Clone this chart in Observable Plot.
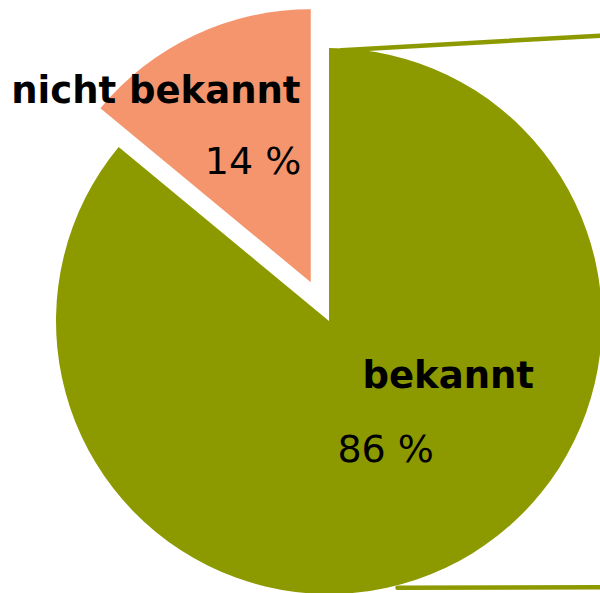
<!DOCTYPE html>
<html><head><meta charset="utf-8">
<script src="https://cdn.jsdelivr.net/npm/d3@7"></script>
<script src="https://cdn.jsdelivr.net/npm/@observablehq/plot@0.6"></script>
<style>html,body{margin:0;padding:0;background:#fff;overflow:hidden}</style>
</head><body><div id="chart"></div>
<script>
// ---- data ----
const categories = ["bekannt", "nicht bekannt"];
const values = [86, 14];
const valueLabels = ["86 %", "14 %"];
const colors = ["#8c9a00", "#f4956e"];
const exploded = [false, true];

// ---- layout (data units: pie centre at 0,0, radius 1) ----
const W = 600, H = 593;
const xDomain = [-329 / 273, 271 / 273];
const yDomain = [-272 / 273, 321 / 273];
const explodeDist = 0.157;

const arcs = d3.pie().sort(null).value(d => d)(values);
const slices = arcs.map((a, i) => {
  const mid = (a.startAngle + a.endAngle) / 2;
  const off = exploded[i] ? explodeDist : 0;
  return {cat: categories[i], start: a.startAngle, end: a.endAngle,
          cx: off * Math.sin(mid), cy: off * Math.cos(mid), color: colors[i]};
});

// connector lines (pie-of-pie style)
const connectors = [
  {id: "top", x: 0.044, y: 0.994}, {id: "top", x: 1.0, y: 1.0476},
  {id: "bottom", x: 0.249, y: -0.975}, {id: "bottom", x: 1.0, y: -0.973}
];

// label positions
const catLabels = [
  {text: categories[0], x: 0.121, y: -0.245, anchor: "start"},
  {text: categories[1], x: -0.106, y: 0.802, anchor: "end"}
];
const valLabels = [
  {text: valueLabels[0], x: 0.029, y: -0.516, anchor: "start"},
  {text: valueLabels[1], x: -0.103, y: 0.542, anchor: "end"}
];

function pieMark(index, scales) {
  const g = d3.create("svg:g");
  const r = scales.x(1) - scales.x(0);
  const arc = d3.arc().innerRadius(0).outerRadius(r);
  for (const s of slices) {
    g.append("path")
      .attr("transform", `translate(${scales.x(s.cx)},${scales.y(s.cy)})`)
      .attr("d", arc({startAngle: s.start, endAngle: s.end}))
      .attr("fill", s.color);
  }
  return g.node();
}

const chart = Plot.plot({
  width: W, height: H,
  margin: 0,
  style: {fontFamily: "'DejaVu Sans', Verdana, sans-serif", background: "#fff"},
  x: {domain: xDomain, axis: null},
  y: {domain: yDomain, axis: null},
  marks: [
    pieMark,
    Plot.line(connectors, {x: "x", y: "y", z: "id", stroke: colors[0], strokeWidth: 4.5}),
    Plot.text(catLabels.filter(d => d.anchor === "start"), {x: "x", y: "y", text: "text", textAnchor: "start", lineAnchor: "bottom", fontSize: 37, fontWeight: "bold", fill: "#000"}),
    Plot.text(catLabels.filter(d => d.anchor === "end"), {x: "x", y: "y", text: "text", textAnchor: "end", lineAnchor: "bottom", fontSize: 37, fontWeight: "bold", fill: "#000"}),
    Plot.text(valLabels.filter(d => d.anchor === "start"), {x: "x", y: "y", text: "text", textAnchor: "start", lineAnchor: "bottom", fontSize: 38, fill: "#000"}),
    Plot.text(valLabels.filter(d => d.anchor === "end"), {x: "x", y: "y", text: "text", textAnchor: "end", lineAnchor: "bottom", fontSize: 38, fill: "#000"})
  ]
});
document.getElementById("chart").appendChild(chart);
</script>
</body></html>
